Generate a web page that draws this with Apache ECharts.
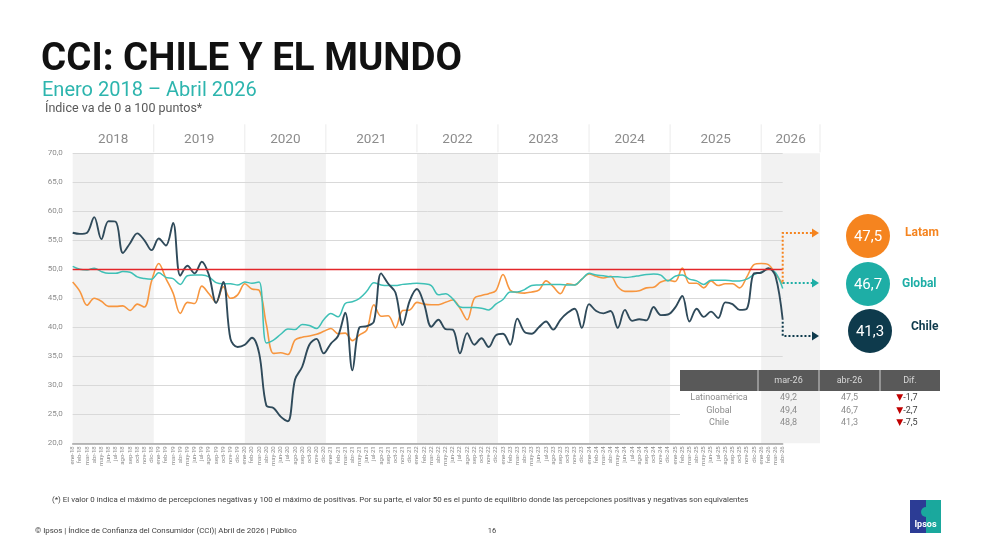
<!DOCTYPE html>
<html>
<head>
<meta charset="utf-8">
<script src="https://cdn.jsdelivr.net/npm/echarts@6/dist/echarts.min.js"></script>
<style>
html,body{margin:0;padding:0;background:#fff;}
#chart{width:988px;height:558px;}
</style>
</head>
<body>
<div id="chart"></div>
<script>
// ---------- DATA ----------
const monthAbbr = ['ene','feb','mar','abr','may','jun','jul','ago','sep','oct','nov','dic'];
const years = ['2018','2019','2020','2021','2022','2023','2024','2025','2026'];
const nMonths = 100; // ene-18 .. abr-26
const categories = [];
for (let i = 0; i < nMonths; i++) {
  categories.push(monthAbbr[i % 12] + '-' + years[Math.floor(i / 12)].slice(2));
}
const yMin = 20, yMax = 70, yStep = 5;
const equilibrium = 50;

const chile = [
  56.3, 56.1, 56.3, 59.0, 55.2, 58.3, 58.2, 52.8, 54.5, 56.2, 55.0, 53.3,
  55.3, 54.1, 58.0, 48.9, 50.6, 49.3, 51.3, 49.0, 44.2, 47.8, 38.0, 36.6,
  37.0, 38.2, 35.5, 26.5, 26.1, 24.6, 23.8, 31.0, 33.2, 37.0, 38.0, 35.5,
  37.2, 38.5, 42.5, 32.6, 40.0, 40.2, 41.0, 49.3, 47.5, 46.0, 40.4, 44.6,
  46.6, 44.0, 40.1, 41.3, 39.7, 39.6, 35.5, 39.0, 37.0, 38.1, 36.6, 38.6,
  38.9, 37.0, 41.5, 39.2, 38.9, 40.0, 41.0, 39.6, 41.3, 42.5, 43.2, 39.9,
  44.0, 42.8, 42.4, 42.8, 39.9, 43.0, 41.1, 41.4, 41.2, 43.5, 42.1, 42.2,
  43.4, 45.4, 41.0, 43.2, 41.8, 42.7, 41.6, 44.3, 44.0, 43.0, 43.2, 49.3,
  49.4, 50.2, 48.8, 41.3
];
const global = [
  50.5, 50.0, 49.9, 50.2, 49.6, 49.3, 49.3, 49.6, 49.5, 48.7, 48.4, 48.3,
  49.4, 48.6, 48.4, 47.4, 48.9, 49.0, 49.0, 48.7, 47.7, 47.5, 47.5, 47.3,
  47.8, 47.6, 47.8, 37.3, 37.8, 38.8, 39.7, 39.6, 40.5, 40.3, 39.8, 41.3,
  42.4, 41.8, 44.1, 44.4, 45.0, 46.2, 47.7, 47.3, 47.2, 47.2, 47.4, 47.5,
  47.6, 47.5, 47.2, 45.6, 45.8, 44.9, 43.5, 43.4, 43.4, 43.3, 43.0, 44.0,
  44.8, 46.1, 46.1, 46.5, 47.2, 47.3, 47.4, 47.4, 47.4, 47.3, 47.3, 48.3,
  49.3, 49.0, 48.9, 48.7, 48.7, 48.6, 48.7, 48.9, 49.1, 49.2, 49.0, 48.0,
  48.8, 49.0, 48.3, 48.0, 47.4, 48.1, 48.1, 48.1, 48.0, 48.0, 48.3, 49.1,
  49.5, 50.0, 49.4, 46.7
];
const latam = [
  47.8, 46.2, 43.8, 45.0, 44.5, 43.6, 43.6, 43.7, 42.9, 44.0, 43.5, 48.0,
  51.0, 48.4, 45.9, 42.4, 44.3, 44.1, 47.1, 45.8, 44.3, 47.0, 45.0, 45.6,
  47.5, 46.6, 46.4, 40.5, 35.5, 35.6, 35.3, 37.8, 38.3, 38.5, 38.8, 39.3,
  39.8, 38.9, 39.0, 37.7, 38.7, 39.5, 43.9, 41.9, 42.0, 39.9, 42.9, 43.0,
  44.3, 44.0, 43.9, 43.9, 44.3, 44.7, 43.3, 41.3, 45.0, 45.5, 45.8, 46.3,
  49.1, 46.4, 46.0, 45.9, 46.1, 46.4, 48.0, 47.0, 45.8, 47.5, 47.3, 48.3,
  49.2, 48.8, 48.5, 48.8, 47.0, 46.2, 46.2, 46.3, 46.8, 46.9, 47.8, 48.1,
  47.9, 50.2, 47.6, 47.6, 46.8, 48.0, 47.2, 47.5, 47.5, 46.8, 48.7, 50.8,
  51.0, 50.8, 49.2, 47.5
];
const tableRowNames = ['Latinoamérica', 'Global', 'Chile'];
const tableColNames = ['mar-26', 'abr-26', 'Dif.'];
const badgeNames = ['Latam', 'Global', 'Chile'];

// ---------- STYLE ----------
const C_CHILE = '#2F4A5A', C_GLOBAL = '#3EC0B6', C_LATAM = '#F7963F';
const B_CHILE = '#0E3A4C', B_GLOBAL = '#1EAEA6', B_LATAM = '#F5841F';
const BAND = '#F2F2F2';
const FONT = 'Roboto, "Noto Sans", sans-serif';
const fmt = v => v.toFixed(1).replace('.', ',');

const last = nMonths - 1;
// header / band column ranges (index units on hidden value axis)
function colRange(k) {
  const jan = 12 * k;
  const start = (k % 2 === 0) ? jan : jan - 0.7;
  let end;
  if (k === years.length - 1) end = last + 5.2;
  else end = (k % 2 === 0) ? jan + 11.3 : jan + 12;
  return [start, end];
}
const headerData = years.map((y, k) => colRange(k).concat([y]));
const bandData = headerData.filter((d, k) => k % 2 === 0);

const chart = echarts.init(document.getElementById('chart'), null, {renderer: 'canvas'});

const option = {
  animation: false,
  backgroundColor: '#fff',
  textStyle: {fontFamily: FONT},
  grid: {left: 72.7, right: 205.3, top: 153.3, bottom: 114.7, containLabel: false},
  xAxis: [{
    type: 'category', data: categories, boundaryGap: false, z: 3,
    axisLine: {lineStyle: {color: '#A6A6A6', width: 1.5}},
    axisTick: {show: false},
    splitLine: {show: false},
    axisLabel: {rotate: 90, interval: 0, fontSize: 6, color: '#8C8C8C', margin: 3, fontFamily: FONT}
  }, {
    type: 'value', min: 0, max: last, show: false
  }],
  yAxis: [{
    type: 'value', min: yMin, max: yMax, interval: yStep, z: 1,
    axisLine: {show: false}, axisTick: {show: false},
    splitLine: {lineStyle: {color: '#D9D9D9', width: 1}},
    axisLabel: {formatter: v => fmt(v), fontSize: 8, color: '#8C8C8C', margin: 10, fontFamily: FONT}
  }],
  series: [
    {
      type: 'custom', xAxisIndex: 1, yAxisIndex: 0, z: 0, silent: true, clip: false,
      data: bandData,
      renderItem: (params, api) => {
        const p1 = api.coord([api.value(0), yMax]);
        const p2 = api.coord([api.value(1), yMin]);
        return {type: 'rect', shape: {x: p1[0], y: p1[1], width: p2[0] - p1[0], height: p2[1] - p1[1]}, style: {fill: BAND}};
      }
    },
    {
      type: 'custom', xAxisIndex: 1, yAxisIndex: 0, z: 0, silent: true, clip: false,
      data: headerData,
      renderItem: (params, api) => {
        const p1 = api.coord([api.value(0), yMax]);
        const p2 = api.coord([api.value(1), yMax]);
        const label = headerData[params.dataIndex][2];
        return {type: 'group', children: [
          {type: 'text', x: (p1[0] + p2[0]) / 2, y: p1[1] - 14,
            style: {text: label, fill: '#8C8C8C', font: '13.5px ' + FONT, align: 'center', verticalAlign: 'middle', textAlign: 'center', textVerticalAlign: 'middle'}},
          {type: 'line', shape: {x1: p2[0], y1: p1[1] - 29, x2: p2[0], y2: p1[1] - 1}, style: {stroke: '#EBEBEB', lineWidth: 1}}
        ]};
      }
    },
    {name: 'Latam', type: 'line', data: latam, smooth: 0.35, showSymbol: false, z: 3,
      lineStyle: {color: C_LATAM, width: 1.6}, itemStyle: {color: C_LATAM}},
    {name: 'Global', type: 'line', data: global, smooth: 0.35, showSymbol: false, z: 3,
      lineStyle: {color: C_GLOBAL, width: 1.5}, itemStyle: {color: C_GLOBAL}},
    {name: 'Chile', type: 'line', data: chile, smooth: 0.35, showSymbol: false, z: 4,
      lineStyle: {color: C_CHILE, width: 1.9}, itemStyle: {color: C_CHILE},
      markLine: {silent: true, symbol: 'none', label: {show: false},
        lineStyle: {color: '#E3262A', width: 1.3, type: 'solid'}, data: [{yAxis: equilibrium}]}}
  ]
};
chart.setOption(option);

// ---------- ANNOTATIONS ----------
const endPix = (si, arr) => chart.convertToPixel({seriesIndex: si}, [last, arr[last]]);
const pL = endPix(2, latam), pG = endPix(3, global), pC = endPix(4, chile);
const xArrowEnd = 819;
function arrowHead(x, y, color) {
  return {type: 'polygon', z: 20, shape: {points: [[x - 7, y - 4.5], [x, y], [x - 7, y + 4.5]]}, style: {fill: color}};
}
function dotted(points, color) {
  return {type: 'polyline', z: 20, shape: {points}, style: {stroke: color, lineWidth: 2, lineDash: [2, 2], fill: null}};
}
const yLatamArrow = 233, yGlobalArrow = 283, yChileArrow = 336;
const g = [];
g.push(dotted([[pL[0], pL[1] - 2], [pL[0], yLatamArrow], [xArrowEnd - 6, yLatamArrow]], B_LATAM));
g.push(arrowHead(xArrowEnd, yLatamArrow, B_LATAM));
g.push(dotted([[pG[0], yGlobalArrow], [xArrowEnd - 6, yGlobalArrow]], B_GLOBAL));
g.push(arrowHead(xArrowEnd, yGlobalArrow, B_GLOBAL));
g.push(dotted([[pC[0], pC[1] + 2], [pC[0], yChileArrow], [xArrowEnd - 6, yChileArrow]], B_CHILE));
g.push(arrowHead(xArrowEnd, yChileArrow, B_CHILE));

// badges
const badgeVals = [latam[last], global[last], chile[last]];
const badgeCol = [B_LATAM, B_GLOBAL, B_CHILE];
const badgeCy = [236, 284, 331];
const badgeCx = [868, 868, 870];
const badgeLx = [905, 902, 911];
const badgeLy = [233, 284, 327];
for (let k = 0; k < 3; k++) {
  g.push({type: 'circle', z: 20, shape: {cx: badgeCx[k], cy: badgeCy[k], r: 22}, style: {fill: badgeCol[k]}});
  g.push({type: 'text', z: 21, x: badgeCx[k], y: badgeCy[k] + 1,
    style: {text: fmt(badgeVals[k]), fill: '#fff', font: '15px ' + FONT, align: 'center', verticalAlign: 'middle', textAlign: 'center', textVerticalAlign: 'middle'}});
  g.push({type: 'text', z: 21, x: badgeLx[k], y: badgeLy[k],
    style: {text: badgeNames[k], fill: badgeCol[k], font: 'bold 12px ' + FONT, align: 'left', verticalAlign: 'middle', textAlign: 'left', textVerticalAlign: 'middle'}});
}

// table
const tx = [680, 758, 819, 880, 940];
const tHeadTop = 370, tHeadBot = 391, tBodyBot = 430;
const rowY = [398, 411, 423];
g.push({type: 'rect', z: 10, shape: {x: tx[0], y: tHeadBot, width: tx[4] - tx[0], height: tBodyBot - tHeadBot}, style: {fill: '#fff'}});
// 2026 band visible through the table body
const b26 = bandData[bandData.length - 1];
const bx1 = chart.convertToPixel({xAxisIndex: 1}, b26[0]);
const bx2 = chart.convertToPixel({xAxisIndex: 1}, b26[1]);
g.push({type: 'rect', z: 11, shape: {x: bx1, y: tHeadBot, width: bx2 - bx1, height: tBodyBot - tHeadBot}, style: {fill: BAND}});
g.push({type: 'rect', z: 12, shape: {x: tx[0], y: tHeadTop, width: tx[4] - tx[0], height: tHeadBot - tHeadTop}, style: {fill: '#595959'}});
for (let c = 1; c < 4; c++) {
  g.push({type: 'line', z: 13, shape: {x1: tx[c], y1: tHeadTop, x2: tx[c], y2: tHeadBot}, style: {stroke: '#D0D0D0', lineWidth: 1}});
  g.push({type: 'text', z: 13, x: (tx[c] + tx[c + 1]) / 2, y: (tHeadTop + tHeadBot) / 2,
    style: {text: tableColNames[c - 1], fill: '#D9D9D9', font: '9px ' + FONT, align: 'center', verticalAlign: 'middle', textAlign: 'center', textVerticalAlign: 'middle'}});
}
const series3 = [latam, global, chile];
for (let r = 0; r < 3; r++) {
  const a = series3[r][last - 1], b = series3[r][last];
  const d = b - a;
  const cells = [tableRowNames[r], fmt(a), fmt(b)];
  for (let c = 0; c < 3; c++) {
    g.push({type: 'text', z: 13, x: (tx[c] + tx[c + 1]) / 2, y: rowY[r],
      style: {text: cells[c], fill: '#8C8C8C', font: '9px ' + FONT, align: 'center', verticalAlign: 'middle', textAlign: 'center', textVerticalAlign: 'middle'}});
  }
  g.push({type: 'text', z: 13, x: 907, y: rowY[r],
    style: {text: '{t|' + (d < 0 ? '▼' : '▲') + '}{v|' + fmt(d) + '}', rich: {t: {fill: '#C00000', fontSize: 9, fontFamily: 'DejaVu Sans'}, v: {fill: '#404040', fontSize: 9, fontFamily: FONT}},
      font: '9px ' + FONT, align: 'center', verticalAlign: 'middle', textAlign: 'center', textVerticalAlign: 'middle'}});
}

// titles & footers
const txt = (text, x, y, font, fill, align) => ({type: 'text', z: 20, x, y,
  style: {text, font, fill, align: align || 'left', verticalAlign: 'middle', textAlign: align || 'left', textVerticalAlign: 'middle'}});
g.push(txt('CCI: CHILE Y EL MUNDO', 41, 60, 'bold 38.5px ' + FONT, '#111111'));
g.push(txt('Enero 2018 – Abril 2026', 42, 91, '20px ' + FONT, '#2DB5AE'));
g.push(txt('Índice va de 0 a 100 puntos*', 45, 109, '12.5px ' + FONT, '#595959'));
g.push(txt('(*) El valor 0 indica el máximo de percepciones negativas y 100 el máximo de positivas. Por su parte, el valor 50 es el punto de equilibrio donde las percepciones positivas y negativas son equivalentes', 52, 500, '7.9px ' + FONT, '#404040'));
g.push(txt('© Ipsos | Índice de Confianza del Consumidor (CCI)| Abril de 2026 | Público', 35, 531, '7.9px ' + FONT, '#404040'));
g.push(txt('16', 492, 531, '7.5px ' + FONT, '#404040', 'center'));
// logo
g.push({type: 'rect', z: 20, shape: {x: 910, y: 500, width: 16, height: 33}, style: {fill: '#2C3C95'}});
g.push({type: 'rect', z: 20, shape: {x: 926, y: 500, width: 15, height: 33}, style: {fill: '#1AA89D'}});
g.push({type: 'circle', z: 21, shape: {cx: 926, cy: 512, r: 5}, style: {fill: '#1AA89D'}});
g.push(txt('Ipsos', 925.5, 525, 'bold 9px ' + FONT, '#ffffff', 'center'));

chart.setOption({graphic: {elements: g}});
</script>
</body>
</html>
